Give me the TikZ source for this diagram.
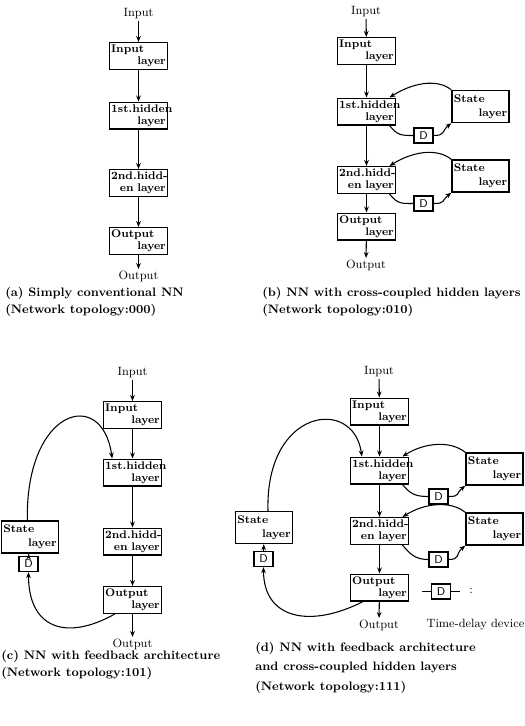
\documentclass[tikz,border=0pt]{standalone}
\usetikzlibrary{arrows.meta}
\newcommand{\lyr}[2]{\mbox{#1}\\\hspace*{0pt plus 1filll}\mbox{#2}}
\newcommand{\stlyr}{State\\[2pt]\hspace*{0pt plus 1filll}layer}

\begin{document}
\begin{tikzpicture}[
    x=0.75pt, y=-0.75pt,
    layer/.style={draw, line width=1pt, align=left, minimum width=43.5pt, text width=41pt, minimum height=20pt, inner sep=1pt, font=\bfseries\fontsize{8.3}{8.8}\selectfont},
    state/.style={layer, minimum width=42.75pt, text width=40pt, minimum height=24pt},
    dbox/.style={draw, line width=1pt, minimum width=14.25pt, minimum height=11.25pt, inner sep=0pt, font=\sffamily\fontsize{8.5}{8.5}\selectfont},
    io/.style={inner sep=1pt, font=\fontsize{9}{10}\selectfont},
    captxt/.style={anchor=north west, align=left, inner sep=0pt, font=\bfseries\fontsize{9.2}{12.75}\selectfont},
    arrow/.style={-{Stealth[length=4.5pt, width=3.5pt]}, line width=0.8pt},
    conn/.style={line width=0.8pt}
]
\useasboundingbox (0,0) rectangle (525,726);

% (a) conventional NN
\node[io] (inA) at (138.5,14) {Input};
\node[layer] (inlA) at (138.5,56) {\lyr{Input}{layer}};
\node[layer] (h1A) at (138.5,115.5) {\lyr{1st.hidden}{layer}};
\node[layer] (h2A) at (138.5,183) {\lyr{2nd.hidd-}{en layer}};
\node[layer] (outlA) at (138.5,241) {\lyr{Output}{layer}};
\node[io] (outA) at (138.5,276) {Output};
\draw[arrow] (inA) -- (inlA);
\draw[arrow] (inlA) -- (h1A);
\draw[arrow] (h1A) -- (h2A);
\draw[arrow] (h2A) -- (outlA);
\draw[arrow] (outlA) -- (outA);
\node[captxt] (capA) at (5,287) {(a) Simply conventional NN\\(Network topology:000)};

% (b) cross-coupled hidden layers
\node[io] (inB) at (366,12) {Input};
\node[layer] (inlB) at (366.5,51) {\lyr{Input}{layer}};
\node[layer] (h1B) at (366.5,111.5) {\lyr{1st.hidden}{layer}};
\node[layer] (h2B) at (366.5,180) {\lyr{2nd.hidd-}{en layer}};
\node[layer] (outlB) at (366.5,226.5) {\lyr{Output}{layer}};
\node[io] (outB) at (366,265) {Output};
\node[state] (s1B) at (480.5,106.5) {\stlyr};
\node[dbox] (d1B) at (423.5,135.5) {D};
\node[state] (s2B) at (480.5,176) {\stlyr};
\node[dbox] (d2B) at (423.5,203.5) {D};
\draw[arrow] (inB) -- (inlB);
\draw[arrow] (inlB) -- (h1B);
\draw[arrow] (h1B) -- (h2B);
\draw[arrow] (h2B) -- (outlB);
\draw[arrow] (outlB) -- (outB);
\draw[arrow] (s1B.north west) .. controls +(-15,-12) and +(22,-14) .. ([xshift=-5pt]h1B.north east);
\draw[conn] ([xshift=-5pt]h1B.south east) .. controls +(8,10) and +(-12,0) .. (d1B.west);
\draw[arrow] (d1B.east) .. controls +(12,0) and +(-10,8) .. (s1B.south west);
\draw[arrow] (s2B.north west) .. controls +(-15,-12) and +(22,-14) .. ([xshift=-5pt]h2B.north east);
\draw[conn] ([xshift=-5pt]h2B.south east) .. controls +(8,10) and +(-12,0) .. (d2B.west);
\draw[arrow] (d2B.east) .. controls +(12,0) and +(-10,8) .. (s2B.south west);
\node[captxt] (capB) at (262,287) {(b) NN with cross-coupled hidden layers\\(Network topology:010)};

% (c) feedback architecture
\node[io] (inC) at (132.5,373) {Input};
\node[layer] (inlC) at (132.5,415) {\lyr{Input}{layer}};
\node[layer] (h1C) at (132.5,472.5) {\lyr{1st.hidden}{layer}};
\node[layer] (h2C) at (132.5,541.5) {\lyr{2nd.hidd-}{en layer}};
\node[layer] (outlC) at (132.5,600) {\lyr{Output}{layer}};
\node[io] (outC) at (132.5,644) {Output};
\node[state] (sC) at (30,537) {\stlyr};
\node[dbox] (dC) at (28.5,564) {D};
\draw[arrow] (inC) -- (inlC);
\draw[arrow] (inlC) -- (h1C);
\draw[arrow] (h1C) -- (h2C);
\draw[arrow] (h2C) -- (outlC);
\draw[arrow] (outlC) -- (outC);
\draw[arrow] ([xshift=-2pt]sC.north) .. controls +(-2,-112) and +(-10,-72) .. ([xshift=7pt]h1C.north west);
\draw[arrow] ([xshift=9pt]outlC.south west) .. controls +(-50,28) and +(0,55) .. (dC.south);
\draw[arrow] (dC) -- ([xshift=-1pt]sC.south);
\node[captxt] (capC) at (1,650) {(c) NN with feedback architecture\\(Network topology:101)};

% (d) feedback and cross-coupled hidden layers
\node[io] (inD) at (379,372) {Input};
\node[layer] (inlD) at (379.5,411.5) {\lyr{Input}{layer}};
\node[layer] (h1D) at (379.5,470.5) {\lyr{1st.hidden}{layer}};
\node[layer] (h2D) at (379.5,531) {\lyr{2nd.hidd-}{en layer}};
\node[layer] (outlD) at (379.5,587.5) {\lyr{Output}{layer}};
\node[io] (outD) at (379,625) {Output};
\node[state] (s1D) at (494.5,469) {\stlyr};
\node[dbox] (d1D) at (438.5,496.5) {D};
\node[state] (s2D) at (494.5,529) {\stlyr};
\node[dbox] (d2D) at (438.5,559.5) {D};
\node[state] (sD) at (264,527.5) {\stlyr};
\node[dbox] (dD) at (263.5,559) {D};
\draw[arrow] (inD) -- (inlD);
\draw[arrow] (inlD) -- (h1D);
\draw[arrow] (h1D) -- (h2D);
\draw[arrow] (h2D) -- (outlD);
\draw[arrow] (outlD) -- (outD);
\draw[arrow] (s1D.north west) .. controls +(-15,-12) and +(22,-14) .. ([xshift=-5pt]h1D.north east);
\draw[conn] ([xshift=-5pt]h1D.south east) .. controls +(8,10) and +(-12,0) .. (d1D.west);
\draw[arrow] (d1D.east) .. controls +(12,0) and +(-10,8) .. (s1D.south west);
\draw[arrow] (s2D.north west) .. controls +(-15,-12) and +(22,-14) .. ([xshift=-5pt]h2D.north east);
\draw[conn] ([xshift=-5pt]h2D.south east) .. controls +(8,10) and +(-12,0) .. (d2D.west);
\draw[arrow] (d2D.east) .. controls +(12,0) and +(-10,8) .. (s2D.south west);
\draw[arrow] ([xshift=3pt]sD.north) .. controls +(-3,-103) and +(-8,-60) .. ([xshift=9pt]h1D.north west);
\draw[arrow] ([xshift=10pt]outlD.south west) .. controls +(-53,27) and +(0,52) .. (dD.south);
\draw[arrow] (dD) -- (sD);
\node[captxt, font=\bfseries\fontsize{9.2}{14.6}\selectfont] (capD) at (255,642) {(d) NN with feedback architecture\\and cross-coupled hidden layers\\(Network topology:111)};

% legend
\coordinate (legL) at (422,591.5);
\coordinate (legR) at (460,591.5);
\node[dbox] (legD) at (441,591.5) {D};
\draw[conn] (legL) -- (legD);
\draw[conn] (legD) -- (legR);
\node[io] (legC) at (471,591) {:};
\node[io, anchor=west] (legT) at (425,625) {Time-delay device};
\end{tikzpicture}
\end{document}
